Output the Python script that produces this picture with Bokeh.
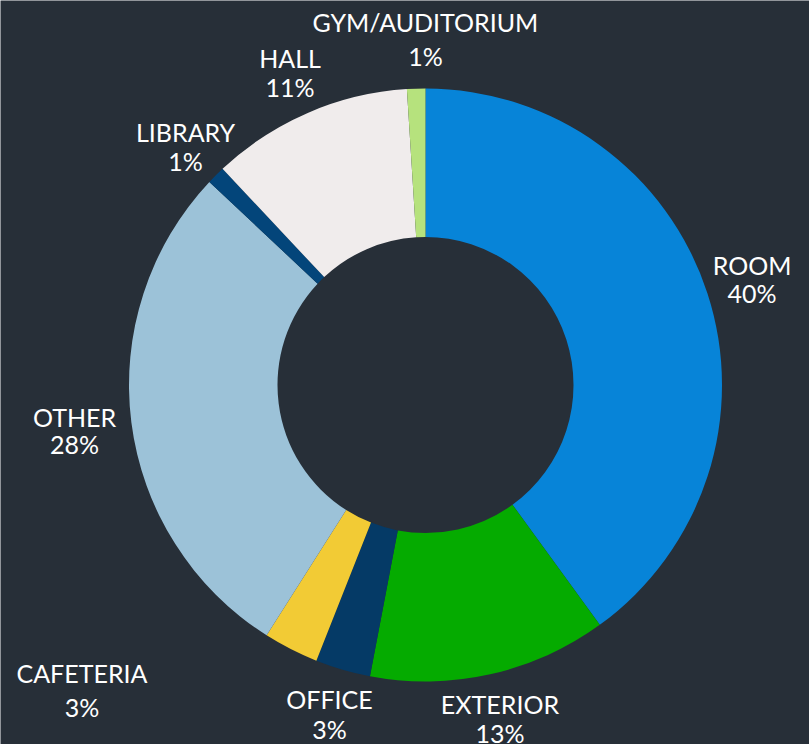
import math
from bokeh.plotting import figure
from bokeh.models import ColumnDataSource, Range1d
from bokeh.core.properties import value
from bokeh.embed import file_html
from bokeh.resources import INLINE

# ---- data ----
categories = ["ROOM", "EXTERIOR", "OFFICE", "CAFETERIA", "OTHER", "LIBRARY", "HALL", "GYM/AUDITORIUM"]
percent = [40, 13, 3, 3, 28, 1, 11, 1]
colors = ["#0784d8", "#05ab00", "#053a66", "#f2cb35", "#9cc2d8", "#03457a", "#f0ecec", "#b6e27d"]

# ---- layout / style ----
W, H = 809, 744
BG = "#272f38"
CX, CY = 425, H - 384.5
R_OUT, R_IN = 296.5, 148
LABEL_R = 345
# label nudges (dx, dy in screen px, downward positive; line gap)
nudges = {
    "ROOM": (-1.6, 0.6, 28),
    "EXTERIOR": (-0.8, -2.7, 29),
    "OFFICE": (0.3, -2.3, 30),
    "CAFETERIA": (-186.9, -1.9, 34),
    "OTHER": (-8.7, 1.8, 27),
    "LIBRARY": (4, 5, 29),
    "HALL": (1.5, 4.1, 29),
    "GYM/AUDITORIUM": (10.8, -0.7, 34),
}

total = float(sum(percent))
starts, ends, mids = [], [], []
cum = 0.0
for v in percent:
    f0 = cum / total
    cum += v
    f1 = cum / total
    starts.append(math.pi / 2 - 2 * math.pi * f0)
    ends.append(math.pi / 2 - 2 * math.pi * f1)
    mids.append((f0 + f1) / 2)

src = ColumnDataSource(dict(cat=categories, pct=percent, color=colors, start=starts, end=ends))

p = figure(width=W, height=H, output_backend="svg", toolbar_location=None,
           x_range=Range1d(0, W), y_range=Range1d(0, H), min_border=0)
p.axis.visible = False
p.grid.visible = False
p.outline_line_color = None
p.background_fill_color = BG
p.border_fill_color = BG

p.annular_wedge(x=CX, y=CY, inner_radius=R_IN, outer_radius=R_OUT,
                start_angle="start", end_angle="end", direction="clock",
                fill_color="color", line_color=None, source=src)

lx, ly1, ly2, names, pcts = [], [], [], [], []
for cat, v, m in zip(categories, percent, mids):
    a = 2 * math.pi * m
    dx, dy, gap = nudges[cat]
    x = CX + LABEL_R * math.sin(a) + dx
    y = CY + LABEL_R * math.cos(a) - dy
    lx.append(x)
    ly1.append(y + gap / 2)
    ly2.append(y - gap / 2)
    names.append(cat)
    pcts.append(f"{v}%")

lsrc = ColumnDataSource(dict(x=lx, y1=ly1, y2=ly2, name=names, pct=pcts))
common = dict(text_color="white", text_font=value("Lato"), text_font_size="25px",
              text_align="center", text_baseline="middle", source=lsrc)
p.text(x="x", y="y1", text="name", **common)
p.text(x="x", y="y2", text="pct", **common)

open("out.html", "w").write(file_html(p, INLINE))
